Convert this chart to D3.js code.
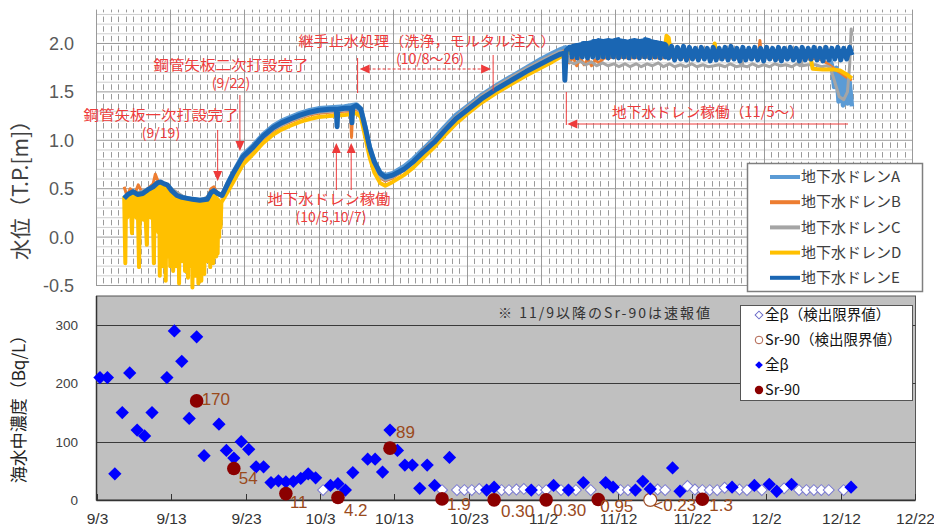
<!DOCTYPE html>
<html><head><meta charset="utf-8">
<script src="https://cdn.jsdelivr.net/npm/d3@7"></script>
<style>
body{margin:0;background:#fff}
svg{display:block}
text{font-family:"Noto Sans CJK JP","Noto Sans",sans-serif}
.num{font-family:"Liberation Sans",Arial,sans-serif}
</style>
</head><body>
<svg id="c" width="934" height="526"></svg>
<script>
// ---------------- DATA ----------------
// Top chart: water level (T.P. m); t = days since 2015-09-03 00:00
const seriesNames = ["地下水ドレンA","地下水ドレンB","地下水ドレンC","地下水ドレンD","地下水ドレンE"];

const drainA = [[3.8,0.41],[5.0,0.46],[6.3,0.45],[7.7,0.52],[8.7,0.56],[9.6,0.53],[10.9,0.43],[12.3,0.40],[14.0,0.38],[15.0,0.39],[15.9,0.47],[17.0,0.43],[17.7,0.55],[18.5,0.67],[19.8,0.85],[21.2,0.95],[22.5,1.06],[23.9,1.15],[25.0,1.20],[26.2,1.24],[27.5,1.28],[28.8,1.31],[30.0,1.33],[31.5,1.34],[33.5,1.35],[35.1,1.37],[35.7,1.33],[36.3,1.14],[36.9,0.93],[37.5,0.79],[38.3,0.67],[39.0,0.64],[40.0,0.66],[41.5,0.73],[42.8,0.81],[44.0,0.90],[45.6,1.02],[47.0,1.14],[48.5,1.26],[50.0,1.35],[52.0,1.47],[54.0,1.57],[56.0,1.66],[58.0,1.75],[60.0,1.84],[61.5,1.90],[62.6,1.94],[63.3,1.96],[64,1.92],[66,1.91],[70,1.92],[75,1.91],[80,1.90],[85,1.91],[90,1.90],[95,1.91],[98.6,1.89],[99.2,1.78],[99.5,1.55],[99.8,1.75],[100.1,1.40],[100.4,1.70],[100.7,1.36],[101.0,1.65],[101.3,1.38],[101.6,1.60],[101.9,1.35]];

const drainB = [[3.8,0.52],[4.2,0.42],[4.6,0.50],[5.2,0.44],[5.7,0.54],[6.3,0.45],[7.0,0.50],[7.7,0.55],[8.0,0.65],[8.4,0.57],[9.0,0.55],[9.6,0.52],[10.9,0.42],[12.3,0.39],[14.0,0.37],[15.0,0.38],[15.5,0.50],[15.9,0.52],[16.4,0.44],[17.0,0.42],[17.7,0.52],[18.5,0.63],[19.8,0.80],[21.2,0.90],[22.5,1.01],[23.9,1.10],[25.0,1.15],[26.2,1.19],[27.5,1.23],[28.8,1.26],[30.0,1.28],[31.5,1.29],[33.5,1.30],[34.3,1.30],[34.45,1.03],[34.6,1.30],[35.1,1.32],[35.7,1.28],[36.3,1.08],[36.9,0.87],[37.5,0.72],[38.3,0.61],[39.0,0.58],[40.0,0.61],[41.5,0.69],[42.8,0.78],[44.0,0.89],[45.6,1.00],[47.0,1.12],[48.5,1.24],[50.0,1.34],[52.0,1.46],[54.0,1.56],[56.0,1.65],[58.0,1.74],[60.0,1.82],[61.5,1.88],[62.6,1.91],[63.3,1.93],[63.8,1.80],[64.3,1.86],[64.8,1.77],[65.3,1.85],[65.8,1.78],[66.3,1.84],[66.8,1.77],[67.3,1.83],[67.8,1.80],[68.5,1.85],[70,1.86],[72,1.85],[74,1.86],[76,1.85],[78,1.86],[80,1.85],[82,1.86],[83.2,1.86],[83.4,2.00],[83.6,1.86],[86,1.85],[88,1.86],[89.3,1.86],[89.5,2.03],[89.7,1.86],[92,1.85],[94,1.86],[96,1.85],[97.5,1.84],[98.5,1.80],[99.5,1.74],[100.3,1.70],[101.0,1.66],[101.9,1.62]];

const drainC = [[3.8,0.40],[7.7,0.52],[9.6,0.53],[12.3,0.39],[14.0,0.37],[15.9,0.46],[17.0,0.42],[18.5,0.64],[19.8,0.81],[21.2,0.91],[22.5,1.02],[23.9,1.11],[26.2,1.20],[28.8,1.27],[30.0,1.29],[33.5,1.31],[35.1,1.33],[35.7,1.29],[36.3,1.09],[36.9,0.88],[37.5,0.73],[38.3,0.62],[39.0,0.59],[40.0,0.62],[41.5,0.69],[42.8,0.78],[44.0,0.88],[45.6,1.00],[47.0,1.12],[48.5,1.24],[50.0,1.34],[52.0,1.46],[54.0,1.56],[56.0,1.65],[58.0,1.74],[60.0,1.82],[61.5,1.88],[62.6,1.92],[63.3,1.90],[63.8,1.81],[64.5,1.79],[65.2,1.82],[66.0,1.78],[66.8,1.81],[67.5,1.77],[68.3,1.80],[69.0,1.77],[69.8,1.79],[70.5,1.76],[71.3,1.79],[72.0,1.76],[72.8,1.79],[73.5,1.76],[74.3,1.79],[75.0,1.77],[75.8,1.80],[76.5,1.76],[77.3,1.79],[78.0,1.76],[78.8,1.78],[79.5,1.76],[80.3,1.79],[81.0,1.76],[81.8,1.78],[82.5,1.76],[83.3,1.77],[84.0,1.78],[84.8,1.76],[85.5,1.79],[86.3,1.76],[86.9,1.77],[87.0,1.88],[87.2,1.77],[87.8,1.76],[88.5,1.79],[89.3,1.76],[90.0,1.78],[90.8,1.76],[91.5,1.79],[92.3,1.77],[93.0,1.78],[93.8,1.76],[94.5,1.79],[94.9,1.77],[95.0,1.87],[95.2,1.77],[96.0,1.78],[97.0,1.78],[97.8,1.76],[98.5,1.77],[99.0,1.75],[99.6,1.60],[100.2,1.45],[100.8,1.42],[101.3,1.50],[101.6,1.78],[101.8,2.15],[101.9,2.08]];

const drainD = [[3.8,0.42],[3.95,-0.27],[4.05,0.38],[4.2,0.20],[4.35,0.40],[4.5,0.22],[4.65,0.42],[4.85,0.04],[5.0,0.44],[5.15,0.24],[5.3,0.45],[5.45,0.20],[5.6,0.45],[5.8,-0.31],[5.95,0.43],[6.1,0.22],[6.25,0.44],[6.4,0.18],[6.55,0.44],[6.85,-0.08],[7.0,0.46],[7.15,0.25],[7.3,0.48],[7.45,0.20],[7.6,0.50],[7.8,-0.27],[7.95,0.52],[8.1,0.15],[8.25,0.54],[8.4,0.05],
[8.5,0.55],[8.6,-0.40],[8.7,0.56],[8.8,-0.10],[8.9,0.55],[9.0,-0.30],[9.1,0.54],[9.2,-0.05],[9.3,0.53],[9.4,-0.45],[9.5,0.52],[9.6,-0.20],[9.7,0.50],[9.8,-0.10],[9.9,0.48],[10.0,-0.30],[10.1,0.46],[10.2,-0.15],[10.3,0.44],[10.4,-0.35],[10.5,0.43],[10.6,-0.05],[10.7,0.42],[10.8,-0.30],[10.9,0.41],[11.0,-0.20],[11.1,0.40],[11.2,-0.48],[11.3,0.39],[11.4,-0.10],[11.5,0.38],[11.6,-0.25],[11.7,0.38],[11.8,-0.15],[11.9,0.38],[12.0,-0.35],[12.1,0.37],[12.2,-0.20],[12.3,0.37],[12.4,-0.42],[12.5,0.36],[12.6,-0.15],[12.7,0.36],[12.8,-0.30],[12.9,0.35],[13.0,-0.52],[13.1,0.35],[13.2,-0.20],[13.3,0.35],[13.4,-0.40],[13.5,0.35],[13.6,-0.15],[13.7,0.34],[13.8,-0.48],[13.9,0.34],[14.0,-0.25],[14.1,0.35],[14.2,-0.45],[14.3,0.35],[14.4,-0.10],[14.5,0.35],[14.6,-0.38],[14.7,0.36],[14.8,-0.15],[14.9,0.36],[15.0,-0.25],[15.1,0.37],[15.2,-0.05],[15.3,0.40],[15.4,-0.31],[15.5,0.43],[15.6,-0.10],[15.7,0.45],[15.8,-0.27],[15.9,0.44],[16.0,-0.05],[16.1,0.42],[16.2,-0.20],[16.3,0.40],[16.4,-0.17],[16.5,0.38],[16.6,0.00],[16.7,0.37],[16.8,0.10],[16.9,0.36],
[17.0,0.37],[17.7,0.46],[18.5,0.57],[19.8,0.75],[21.2,0.86],[22.5,0.97],[23.9,1.06],[25.0,1.11],[26.2,1.15],[27.5,1.19],[28.8,1.22],[30.0,1.24],[31.5,1.25],[33.5,1.26],[35.1,1.28],[35.7,1.24],[36.3,1.03],[36.9,0.82],[37.5,0.67],[38.3,0.56],[39.0,0.53],[40.0,0.57],[41.5,0.64],[42.8,0.72],[44.0,0.81],[45.6,0.93],[47.0,1.05],[48.5,1.17],[50.0,1.27],[52.0,1.39],[54.0,1.49],[56.0,1.58],[58.0,1.67],[60.0,1.75],[61.5,1.81],[62.6,1.86],[63.3,1.92],[64.5,1.88],[66,1.89],[68,1.88],[70,1.89],[72,1.88],[74,1.89],[76,1.88],[76.6,1.90],[76.9,2.08],[77.2,2.06],[77.5,1.90],[79,1.88],[81,1.89],[83.2,1.89],[83.4,2.00],[83.6,1.89],[86,1.88],[88,1.89],[90,1.88],[92,1.89],[94,1.88],[96.3,1.87],[96.6,1.74],[98,1.73],[99.5,1.73],[100.3,1.72],[101.2,1.68],[101.9,1.64]];

const drainE = [[3.8,0.40],[4.3,0.44],[5.0,0.47],[5.6,0.44],[6.3,0.45],[7.0,0.49],[7.7,0.52],[8.3,0.56],[8.7,0.57],[9.2,0.55],[9.6,0.54],[10.2,0.48],[10.9,0.43],[11.6,0.41],[12.3,0.40],[13.0,0.39],[14.0,0.38],[15.0,0.39],[15.5,0.46],[15.9,0.48],[16.4,0.45],[17.0,0.43],[17.7,0.54],[18.5,0.66],[19.8,0.83],[21.2,0.93],[22.5,1.04],[23.9,1.13],[25.0,1.18],[26.2,1.22],[27.5,1.26],[28.8,1.29],[30.0,1.31],[31.5,1.32],[32.4,1.32],[32.5,1.14],[32.6,1.32],[33.5,1.33],[34.4,1.33],[34.5,1.18],[34.6,1.34],[35.1,1.36],[35.7,1.32],[36.3,1.13],[36.9,0.92],[37.5,0.78],[38.3,0.66],[39.0,0.62],[40.0,0.64],[41.5,0.70],[42.8,0.78],[44.0,0.87],[45.6,0.98],[47.0,1.10],[48.5,1.22],[50.0,1.31],[52.0,1.43],[54.0,1.53],[56.0,1.62],[58.0,1.71],[60.0,1.79],[61.5,1.85],[62.6,1.89],[63.1,1.90],[63.2,1.62],[63.4,1.93],
[63.8,1.96],[64.1,1.96],[64.15,1.86],[64.25,1.97],[64.8,1.98],[64.85,1.85],[64.95,1.98],[65.5,1.99],[65.55,1.86],[65.65,2.00],[66.2,2.00],[66.25,1.85],[66.35,2.00],[66.9,2.01],[66.95,1.86],[67.05,2.02],[67.6,2.02],[67.65,1.85],[67.75,2.03],[68.3,2.02],[68.35,1.86],[68.45,2.02],[69.0,2.03],[69.05,1.85],[69.15,2.03],[69.7,2.02],[69.75,1.86],[69.85,2.03],[70.4,2.04],[70.45,1.85],[70.55,2.03],[71.1,2.02],[71.15,1.86],[71.25,2.02],[71.8,2.01],[71.85,1.85],[71.95,2.02],[72.5,2.03],[72.55,1.86],[72.65,2.03],[73.2,2.02],[73.25,1.85],[73.35,2.02],[73.9,2.03],[73.95,1.86],[74.05,2.04],[74.6,2.03],[74.65,1.85],[74.75,2.02],[75.3,2.01],[75.35,1.86],[75.45,2.01],[76.0,2.00],[76.05,1.85],[76.15,2.00],[76.7,1.99],[76.75,1.86],[76.85,1.98],
[77.2,1.85],[77.6,1.97],[78.0,1.83],[78.4,1.96],[78.8,1.84],[79.2,1.97],[79.6,1.83],[80.0,1.96],[80.4,1.84],[80.8,1.95],[81.2,1.83],[81.6,1.96],[82.0,1.84],[82.4,1.95],[82.8,1.82],[83.2,1.96],[83.6,1.83],[84.0,1.95],[84.4,1.84],[84.8,1.96],[85.2,1.83],[85.6,1.97],[86.0,1.84],[86.4,1.95],[86.8,1.82],[87.2,1.96],[87.6,1.83],[88.0,1.95],[88.4,1.84],[88.8,1.96],[89.2,1.83],[89.6,1.95],[90.0,1.82],[90.4,1.96],[90.8,1.84],[91.2,1.95],[91.6,1.83],[92.0,1.96],[92.4,1.82],[92.8,1.95],[93.2,1.84],[93.6,1.96],[94.0,1.83],[94.4,1.95],[94.8,1.82],[95.2,1.96],[95.6,1.83],[96.0,1.95],[96.4,1.84],[96.8,1.96],[97.2,1.83],[97.6,1.95],[98.0,1.82],[98.4,1.96],[98.8,1.83],[99.2,1.95],[99.6,1.84],[100.0,1.96],[100.4,1.83],[100.8,1.95],[101.2,1.84],[101.6,1.96],[101.9,1.88]];

const drainSeries = [drainA, drainB, drainC, drainD, drainE];
const topYTicks = [-0.5, 0.0, 0.5, 1.0, 1.5, 2.0];

// Bottom chart: seawater concentration (Bq/L), sample dates 2015
const betaAll = [["9/3",210],["9/4",210],["9/5",45],["9/6",150],["9/7",218],["9/8",120],["9/9",110],["9/10",150],["9/12",210],["9/13",290],["9/14",238],["9/15",140],["9/16",280],["9/17",76],["9/19",130],["9/20",85],["9/21",72],["9/22",100],["9/23",87],["9/24",57],["9/25",57],["9/26",30],["9/27",33],["9/28",31],["9/29",32],["9/30",37],["10/1",45],["10/2",38],["10/4",25],["10/5",28],["10/6",17],["10/7",47],["10/9",70],["10/10",70],["10/11",48],["10/12",120],["10/13",85],["10/14",60],["10/15",60],["10/16",20],["10/17",60],["10/18",25],["10/20",73],["10/25",17],["10/26",22],["10/31",17],["11/3",25],["11/5",17],["11/7",30],["11/10",30],["11/11",22],["11/14",17],["11/15",32],["11/16",19],["11/19",55],["11/20",15],["11/27",22],["11/30",25],["12/2",27],["12/3",15],["12/5",27],["12/13",22]];
const betaLimit = [["10/3",17],["10/19",17],["10/21",17],["10/22",17],["10/23",17],["10/24",19],["10/27",17],["10/28",17],["10/29",18],["10/30",19],["11/1",17],["11/2",17],["11/4",17],["11/6",17],["11/8",17],["11/12",17],["11/13",17],["11/17",18],["11/18",17],["11/21",24],["11/22",18],["11/23",17],["11/24",17],["11/25",17],["11/26",21],["11/28",18],["11/29",17],["12/1",17],["12/4",20],["12/6",17],["12/7",17],["12/8",17],["12/9",17],["12/10",17],["12/12",17]];
const sr90 = [["9/16",170],["9/21",54],["9/28",11],["10/5",4.2],["10/12",89],["10/19",1.9],["10/26",0.30],["11/2",0.30],["11/9",0.95],["11/23",1.3]];
const sr90Labels = ["170","54","11","4.2","89","1.9","0.30","0.30","0.95","1.3"];
const sr90Limit = [["11/16",0.23]];
const sr90LimitLabels = ["<0.23"];
const bottomYTicks = [0, 100, 200, 300];
const bottomLegend = ["全β（検出限界値）","Sr-90（検出限界値）","全β","Sr-90"];
const noteText = "※ 11/9以降のSr-90は速報値";

// ---------------- LAYOUT ----------------
const svg = d3.select("#c");
const T0 = Date.UTC(2015, 8, 3);
const day = t => new Date(T0 + t * 864e5);
const SAMPLE_OFFSET = 0.4;
const md = s => { const [m, d] = s.split("/").map(Number); return new Date(Date.UTC(2015, m - 1, d) + SAMPLE_OFFSET * 864e5); };

const xTop = d3.scaleUtc().domain([day(0), day(110)]).range([96, 912]);
const yTop = d3.scaleLinear().domain([-0.5, 2.35]).range([285.5, 9.6]);
const xBot = d3.scaleUtc().domain([day(0), day(110)]).range([97, 915]);
const yBot = d3.scaleLinear().domain([0, 350]).range([500, 296]);

const colors = ["#5b9bd5","#ed7d31","#a5a5a5","#ffc000","#1a66b3"];
const widths = [4.5, 3, 3, 4, 5];
const RED = "#ee3b3b";

// ---- Top grid ----
const g = svg.append("g");
const [yb, yt] = yTop.range();
d3.range(-5, 24).forEach(i => {
  const y = yTop(i / 10);
  if (i % 5 !== 0) g.append("line").attr("x1", 96).attr("x2", 912).attr("y1", y).attr("y2", y).attr("stroke", "#cfcfcf").attr("stroke-width", 1);
});
d3.range(0, 111).forEach(i => {
  if (i % 10 === 0) return;
  const x = Math.round(xTop(day(i))) + 0.5;
  g.append("line").attr("x1", x).attr("x2", x).attr("y1", yb).attr("y2", yt)
    .attr("stroke", "#9a9a9a").attr("stroke-width", 1)
    .attr("stroke-dasharray", "5.5,4.18").attr("stroke-dashoffset", 7.59);
});
d3.range(0, 111, 10).forEach(i => {
  const x = Math.round(xTop(day(i))) + 0.5;
  g.append("line").attr("x1", x).attr("x2", x).attr("y1", yb).attr("y2", yt).attr("stroke", "#9a9a9a").attr("stroke-width", 1);
});
topYTicks.forEach(v => {
  const y = yTop(v);
  g.append("line").attr("x1", 96).attr("x2", 912).attr("y1", y).attr("y2", y).attr("stroke", "#9a9a9a").attr("stroke-width", 1);
  g.append("text").attr("class", "num").attr("x", 74).attr("y", y).attr("dy", "0.36em")
    .attr("text-anchor", "end").attr("font-size", 18).attr("fill", "#595959").text(v.toFixed(1));
});
svg.append("text").attr("transform", "translate(28,185) rotate(-90)").attr("text-anchor", "middle")
  .attr("font-size", 21).attr("fill", "#404040").text("水位（T.P.[m]）");

// ---- Top series ----
const line = d3.line().x(d => xTop(day(d[0]))).y(d => yTop(d[1]));
drainSeries.forEach((s, i) => {
  svg.append("path").datum(s).attr("d", line).attr("fill", "none")
    .attr("stroke", colors[i]).attr("stroke-width", widths[i]).attr("stroke-linejoin", "round");
});

// ---- Annotations ----
const ann = svg.append("g");
function tri(x, y, dir) {
  const w = 4.5, h = 10;
  let pts;
  if (dir === "down") pts = [[x, y], [x - w, y - h], [x + w, y - h]];
  if (dir === "up") pts = [[x, y], [x - w, y + h], [x + w, y + h]];
  if (dir === "left") pts = [[x, y], [x + h, y - w], [x + h, y + w]];
  if (dir === "right") pts = [[x, y], [x - h, y - w], [x - h, y + w]];
  ann.append("path").attr("d", "M" + pts.join("L") + "Z").attr("fill", RED);
}
function vline(x, y1, y2, dash) {
  ann.append("line").attr("x1", x).attr("x2", x).attr("y1", y1).attr("y2", y2).attr("stroke", RED).attr("stroke-width", 1).attr("stroke-dasharray", dash || null);
}
function hline(x1, x2, y, dash) {
  ann.append("line").attr("x1", x1).attr("x2", x2).attr("y1", y).attr("y2", y).attr("stroke", RED).attr("stroke-width", 1).attr("stroke-dasharray", dash || null);
}
function label(x, y, s, len) {
  const t = ann.append("text").attr("x", x).attr("y", y).attr("text-anchor", "middle").attr("font-size", 14).attr("fill", RED).text(s);
  if (len) t.attr("textLength", len).attr("lengthAdjust", "spacingAndGlyphs");
}
const ax = s => xTop(md(s));
label(231, 70, "鋼管矢板二次打設完了", 155); label(231, 88, "(9/22)");
vline(ax("9/22"), 95, 142); tri(ax("9/22"), 151, "down");
label(161, 120, "鋼管矢板一次打設完了", 155); label(161, 138, "(9/19)");
vline(ax("9/19"), 130, 172); tri(ax("9/19"), 181, "down");
label(329, 204, "地下水ドレン稼働", 123); label(331, 222, "(10/5,10/7)");
[ax("10/5"), ax("10/7")].forEach(x => { vline(x, 150, 190); tri(x, 143, "up"); });
label(427, 46, "継手止水処理（洗浄，モルタル注入）", 257); label(430, 64, "(10/8～26)");
const xa = ax("10/8"), xb = ax("10/26");
vline(xa - 1, 58, 93); vline(xb + 1, 55, 91);
hline(xa + 9, xb - 9, 69, "3,2"); tri(xa + 1, 69, "left"); tri(xb - 1, 69, "right");
label(708, 117, "地下水ドレン稼働（11/5～）", 192);
const xc = ax("11/5");
vline(xc, 92, 125); hline(xc + 9, 848, 124); tri(xc + 1, 124, "left");

// ---- Top legend ----
const lg = svg.append("g");
lg.append("rect").attr("x", 747.5).attr("y", 163.5).attr("width", 175).attr("height", 128).attr("fill", "#fff").attr("stroke", "#7f7f7f").attr("stroke-width", 1.5);
seriesNames.forEach((n, i) => {
  const y = 177 + i * 25.2;
  lg.append("line").attr("x1", 770).attr("x2", 800).attr("y1", y).attr("y2", y).attr("stroke", colors[i]).attr("stroke-width", 4);
  lg.append("text").attr("x", 801).attr("y", y).attr("dy", "0.35em").attr("font-size", 15).attr("fill", "#404040").text(n);
});

// ---- Bottom chart ----
const b = svg.append("g");
b.append("rect").attr("x", 96.5).attr("y", 296).attr("width", 819).attr("height", 204).attr("fill", "#c0c0c0").attr("stroke", "#555").attr("stroke-width", 1);
bottomYTicks.forEach(v => {
  const y = Math.round(yBot(v)) + 0.5;
  if (v > 0) b.append("line").attr("x1", 96.5).attr("x2", 915.5).attr("y1", y).attr("y2", y).attr("stroke", "#3a3a3a").attr("stroke-width", 1);
  b.append("text").attr("class", "num").attr("x", 78).attr("y", y).attr("dy", "0.36em").attr("text-anchor", "end")
    .attr("font-size", 13.5).attr("fill", "#404040").text(v);
});
b.append("line").attr("x1", 96.5).attr("x2", 915.5).attr("y1", 500.5).attr("y2", 500.5).attr("stroke", "#333").attr("stroke-width", 1.5);
b.append("line").attr("x1", 96.5).attr("x2", 96.5).attr("y1", 296).attr("y2", 500.5).attr("stroke", "#333").attr("stroke-width", 1.5);
const fmt = d3.utcFormat("%-m/%-d");
d3.range(0, 111, 10).forEach(i => {
  const x = Math.round(xBot(day(i))) + 0.5;
  b.append("line").attr("x1", x).attr("x2", x).attr("y1", 500).attr("y2", 494).attr("stroke", "#333");
  b.append("text").attr("class", "num").attr("x", x).attr("y", 524).attr("text-anchor", "middle")
    .attr("font-size", 15.5).attr("fill", "#333").text(fmt(day(i)));
});
svg.append("text").attr("transform", "translate(25,405) rotate(-90)").attr("text-anchor", "middle")
  .attr("font-size", 17).attr("fill", "#222").text("海水中濃度（Bq/L）");
b.append("text").attr("x", 498).attr("y", 318).attr("font-size", 14).attr("fill", "#333")
  .attr("textLength", 212).attr("lengthAdjust", "spacing").text(noteText);

b.selectAll(".bl").data(betaLimit).join("path")
  .attr("d", d3.symbol().type(d3.symbolSquare).size(60)()).attr("transform", d => `translate(${xBot(md(d[0]))},${yBot(d[1])}) rotate(45)`)
  .attr("fill", "#fff").attr("stroke", "#7a7ad0").attr("stroke-width", 1);
b.selectAll(".sl").data(sr90Limit).join("circle")
  .attr("cx", d => xBot(md(d[0]))).attr("cy", d => yBot(d[1])).attr("r", 6.5)
  .attr("fill", "#fff").attr("stroke", "#a0522d").attr("stroke-width", 1.2);
b.selectAll(".ba").data(betaAll).join("path")
  .attr("d", d3.symbol().type(d3.symbolSquare).size(88)()).attr("transform", d => `translate(${xBot(md(d[0]))},${yBot(d[1])}) rotate(45)`)
  .attr("fill", "#0000ff");
b.selectAll(".sr").data(sr90).join("circle")
  .attr("cx", d => xBot(md(d[0]))).attr("cy", d => yBot(d[1])).attr("r", 6.8).attr("fill", "#8b0000");

const labelOffsets = [[5,-2],[5,9],[4,8],[6,12],[6,-16],[5,5],[7,11],[7,10],[2,6],[7,6]];
const limitOffsets = [[3,5]];
const lblColor = "#9a4a1c";
b.selectAll(".srl").data(sr90).join("text").attr("class", "num")
  .attr("x", (d, i) => xBot(md(d[0])) + labelOffsets[i][0]).attr("y", (d, i) => yBot(d[1]) + labelOffsets[i][1])
  .attr("dy", "0.36em").attr("font-size", 17).attr("fill", lblColor).text((d, i) => sr90Labels[i]);
b.selectAll(".sll").data(sr90Limit).join("text").attr("class", "num")
  .attr("x", (d, i) => xBot(md(d[0])) + limitOffsets[i][0]).attr("y", (d, i) => yBot(d[1]) + limitOffsets[i][1])
  .attr("dy", "0.36em").attr("font-size", 17).attr("fill", lblColor).text((d, i) => sr90LimitLabels[i]);

// bottom legend
const bl = svg.append("g");
bl.append("rect").attr("x", 740.5).attr("y", 305.5).attr("width", 172).attr("height", 95).attr("fill", "#fff").attr("stroke", "#555").attr("stroke-width", 1);
bottomLegend.forEach((n, i) => {
  const y = 315 + i * 25, x = 759;
  if (i === 0) bl.append("path").attr("d", d3.symbol().type(d3.symbolSquare).size(30)()).attr("transform", `translate(${x},${y}) rotate(45)`).attr("fill", "#fff").attr("stroke", "#6a6ac8");
  if (i === 1) bl.append("circle").attr("cx", x).attr("cy", y).attr("r", 3.8).attr("fill", "#fff").attr("stroke", "#b0604a");
  if (i === 2) bl.append("path").attr("d", d3.symbol().type(d3.symbolSquare).size(30)()).attr("transform", `translate(${x},${y}) rotate(45)`).attr("fill", "#0000ff");
  if (i === 3) bl.append("circle").attr("cx", x).attr("cy", y).attr("r", 4.2).attr("fill", "#8b0000");
  bl.append("text").attr("x", 765).attr("y", y).attr("dy", "0.35em").attr("font-size", 14.5).attr("fill", "#111").text(n);
});
</script>
</body></html>
